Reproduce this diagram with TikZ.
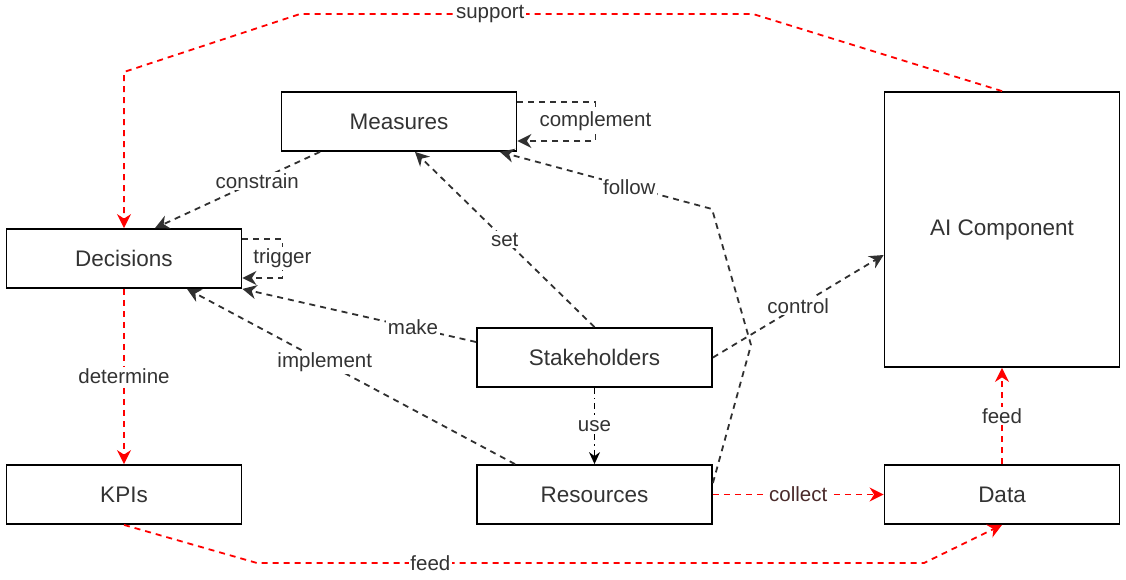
\documentclass[tikz,border=0pt]{standalone}
\usepackage{fontspec}
\setmainfont{Liberation Sans}
\usetikzlibrary{arrows.meta}
\definecolor{txt}{HTML}{333333}
\definecolor{ln}{HTML}{303030}
\definecolor{rd}{HTML}{FF0000}
\definecolor{clab}{HTML}{4A2A2A}
\tikzset{
  box/.style={draw=black,line width=1.8pt,fill=white,text=txt,minimum width=235pt,minimum height=59pt,inner sep=0pt,font=\fontsize{22.5}{26}\selectfont},
  lab/.style={fill=white,text=txt,inner sep=1.5pt,font=\fontsize{20.5}{24}\selectfont},
  tip/.style={-{Stealth[length=14pt,width=14pt,inset=4.5pt]}},
  blk/.style={tip,draw=ln,line width=1.8pt,dash pattern=on 6pt off 5pt},
  red/.style={tip,draw=rd,line width=1.8pt,dash pattern=on 6pt off 5pt},
  usestyle/.style={-{Stealth[length=12pt,width=11pt,inset=4pt]},draw=black,line width=1.4pt,dash pattern=on 6pt off 4pt on 1.5pt off 4pt},
}
\begin{document}
\begin{tikzpicture}[x=1pt,y=-1pt]
\useasboundingbox (0,0) rectangle (1126,579);
% nodes
\node[box] (meas) at (399,121.5) {Measures};
\node[box] (dec) at (124,258.5) {Decisions};
\node[box] (kpi) at (124,494.5) {KPIs};
\node[box] (stk) at (594.5,357.5) {Stakeholders};
\node[box] (res) at (594.5,494.5) {Resources};
\node[box] (data) at (1002,494.5) {Data};
\node[box,minimum height=275pt] (ai) at (1002,229.5) {AI Component};
% waypoints
\coordinate (s1) at (753,14);
\coordinate (s2) at (300,14);
\coordinate (s3) at (124,72);
\coordinate (f1) at (257,563);
\coordinate (f2) at (924,563);
\coordinate (w1) at (751,345);
\coordinate (w2) at (712,209);
% red edges
\draw[red] (ai.north) -- (s1) -- node[lab,pos=0.58]{support} (s2) -- (s3) -- (dec.north);
\draw[red] (dec.south) -- node[lab]{determine} (kpi.north);
\draw[red] (kpi.south) -- (f1) -- node[lab,pos=0.26]{feed} (f2) -- (data.south);
\draw[red] (data.north) -- node[lab]{feed} (ai.south);
\draw[red] (res.east) -- node[lab,text=clab]{collect} (data.west);
% black edges
\draw[usestyle] (stk.south) -- node[lab]{use} (res.north);
\draw[blk] (stk.east) -- node[lab]{control} ([yshift=-25.5pt]ai.west);
\draw[blk] ([yshift=15.5pt]stk.west) -- node[lab,pos=0.27]{make} (dec.south east);
\draw[blk] ([xshift=-79.5pt]res.north) -- node[lab,pos=0.58]{implement} ([xshift=63pt]dec.south);
\draw[blk] (stk.north) -- node[lab,pos=0.5]{set} ([xshift=16pt]meas.south);
\draw[blk] ([yshift=11.5pt]res.east) -- (w1) -- (w2) -- node[lab,pos=0.39]{follow} ([xshift=101pt]meas.south);
\draw[blk] ([xshift=-79pt]meas.south) -- node[lab,pos=0.38]{constrain} ([xshift=31pt]dec.north);
\draw[blk] ([yshift=19.5pt]meas.east) -- ++(78,0) |- node[lab,pos=0.25]{complement} ([yshift=-19.5pt]meas.east);
\draw[blk] ([yshift=19.5pt]dec.east) -- ++(40,0) |- node[lab,pos=0.25]{trigger} ([yshift=-19.5pt]dec.east);
\end{tikzpicture}
\end{document}
